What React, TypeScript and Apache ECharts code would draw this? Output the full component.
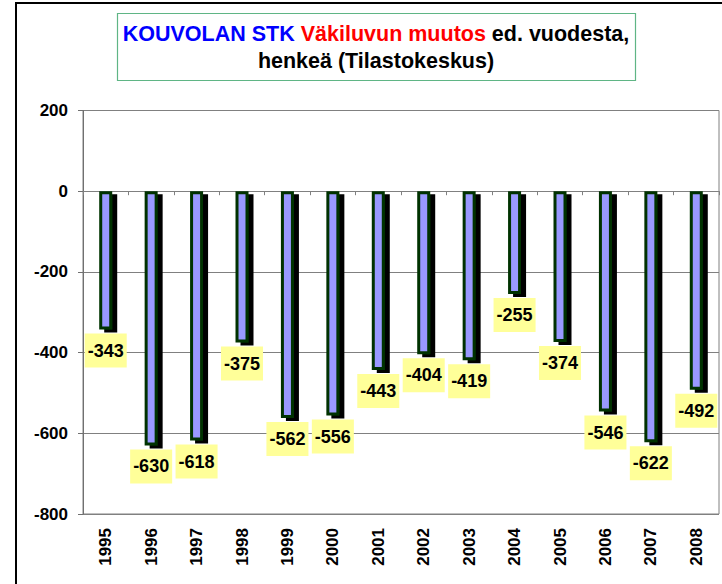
import React, { useEffect, useRef } from "react";
import * as echarts from "echarts";

const years = ["1995", "1996", "1997", "1998", "1999", "2000", "2001", "2002", "2003", "2004", "2005", "2006", "2007", "2008"];
const changes = [-343, -630, -618, -375, -562, -556, -443, -404, -419, -255, -374, -546, -622, -492];
const yMin = -800;
const yMax = 200;
const yStep = 200;

const FONT = "'Liberation Sans', Arial, sans-serif";

export default function App() {
  const ref = useRef<HTMLDivElement>(null);
  useEffect(() => {
    if (!ref.current) return;
    const chart = echarts.init(ref.current, null, { renderer: "svg" });
    chart.setOption({
      animation: false,
      backgroundColor: "#ffffff",
      textStyle: { fontFamily: FONT },
      grid: {
        left: 83,
        right: 3,
        top: 110.5,
        bottom: 70,
        show: true,
        borderColor: "#808080",
        borderWidth: 1,
        backgroundColor: "transparent",
      },
      graphic: [
        {
          type: "rect",
          shape: { x: 16, y: 3, width: 800, height: 700 },
          style: { fill: "none", stroke: "#000", lineWidth: 2 },
          silent: true,
        },
        {
          type: "rect",
          shape: { x: 117.5, y: 13.5, width: 518, height: 67 },
          style: { fill: "#fff", stroke: "#5fb585", lineWidth: 1.2 },
          silent: true,
        },
        {
          type: "text",
          x: 376,
          y: 47.5,
          style: {
            text: "{b|KOUVOLAN STK} {r|Väkiluvun muutos} ed. vuodesta,\nhenkeä (Tilastokeskus)",
            align: "center",
            verticalAlign: "middle",
            fill: "#000",
            fontSize: 21.5,
            fontWeight: "bold",
            fontFamily: FONT,
            lineHeight: 27,
            rich: {
              b: { fill: "#0000ff", fontSize: 21.5, fontWeight: "bold", fontFamily: FONT, lineHeight: 27 },
              r: { fill: "#ff0000", fontSize: 21.5, fontWeight: "bold", fontFamily: FONT, lineHeight: 27 },
            },
          },
          silent: true,
        },
      ],
      xAxis: [
        {
          type: "category",
          data: years,
          position: "bottom",
          axisLine: { show: false, onZero: false },
          axisTick: { show: false },
          axisLabel: {
            rotate: 90,
            margin: 14,
            color: "#000",
            fontSize: 17,
            fontWeight: "bold",
            fontFamily: FONT,
          },
          splitLine: { show: false },
        },
        {
          type: "category",
          data: years,
          position: "bottom",
          axisLine: { show: true, onZero: true, lineStyle: { color: "#808080", width: 1 } },
          axisTick: { show: true, length: 4, lineStyle: { color: "#808080" } },
          axisLabel: { show: false },
          splitLine: { show: false },
        },
      ],
      yAxis: {
        type: "value",
        min: yMin,
        max: yMax,
        interval: yStep,
        axisLine: { show: true, lineStyle: { color: "#707070", width: 1 } },
        axisTick: { show: true, length: 5, lineStyle: { color: "#707070" } },
        axisLabel: {
          margin: 15,
          color: "#000",
          fontSize: 17,
          fontWeight: "bold",
          fontFamily: FONT,
        },
        splitLine: { show: true, lineStyle: { color: "#808080", width: 1 } },
      },
      series: [
        {
          type: "bar",
          xAxisIndex: 0,
          data: changes,
          barWidth: 13,
          itemStyle: {
            color: "#9999ff",
            borderColor: "#003300",
            borderWidth: 3,
            shadowColor: "#000",
            shadowBlur: 0,
            shadowOffsetX: 5,
            shadowOffsetY: 3,
          },
          label: {
            show: true,
            position: "bottom",
            distance: 4,
            color: "#000",
            fontSize: 18,
            fontWeight: "bold",
            fontFamily: FONT,
            backgroundColor: "#ffff99",
            lineHeight: 20,
            padding: [7, 3, 7, 3],
          },
        },
      ],
    });
    return () => chart.dispose();
  }, []);
  return (
    <div
      ref={ref}
      style={{ position: "fixed", left: 0, top: 0, width: 722, height: 584 }}
    />
  );
}
